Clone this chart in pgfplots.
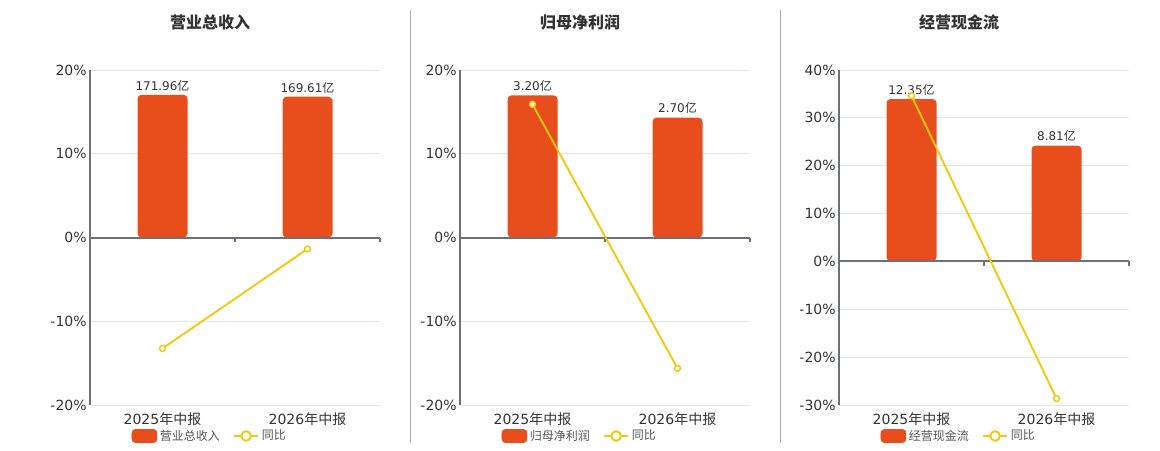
\documentclass[border=0pt]{standalone}
\usepackage{pgfplots}
\pgfplotsset{compat=1.18}
\usepackage{fontspec}
\setmainfont{DejaVu Sans}
\newfontfamily\cjk{Noto Sans CJK SC}
\definecolor{barc}{HTML}{E84D1C}
\definecolor{linec}{HTML}{F5C70A}
\definecolor{gridc}{HTML}{E0E6F1}
\definecolor{axc}{HTML}{6E7079}
\definecolor{txtc}{HTML}{333333}
\definecolor{legc}{HTML}{555555}
\definecolor{sepc}{HTML}{AAAAAA}
\pgfplotsset{
  panelbase/.style={
    scale only axis, width=217.5pt, height=251.25pt, anchor=south west,
    xmin=-0.5, xmax=1.5,
  },
  mainax/.style={
    panelbase,
    axis lines*=left,
    x axis line style={draw=none},
    y axis line style={draw=axc, line width=0.8pt},
    xtick={0,1},
    major x tick style={draw=none},
    major y tick style={draw=none},
    ymajorgrids, grid style={draw=gridc, line width=0.75pt},
    yticklabel={\pgfmathprintnumber[assume math mode=true]{\tick}\%},
    yticklabel style={font=\fontsize{10.5}{12}\selectfont, text=txtc, xshift=1pt},
    xticklabel style={font=\fontsize{10.5}{12}\selectfont, text=txtc, yshift=-2.5pt},
    title style={at={(0.414,1.119)}, anchor=center, font=\cjk\bfseries\fontsize{12}{14}\selectfont, text=txtc},
    legend columns=2,
    legend style={draw=none, at={(0.414,-0.0925)}, anchor=center, font=\cjk\fontsize{9}{11}\selectfont, text=legc,
      /tikz/every even column/.append style={column sep=8pt}, inner sep=0pt},
  },
  barax/.style={
    panelbase, hide axis, ybar, bar width=37.5pt, clip=false,
    point meta=explicit symbolic,
    nodes near coords={\pgfplotspointmeta{\cjk 亿}},
    every node near coord/.append style={font=\fontsize{9}{11}\selectfont, text=txtc, inner sep=2.5pt},
  },
  lineax/.style={panelbase, hide axis, clip=false},
  barsty/.style={fill=barc, draw=none, rounded corners=3pt},
  linesty/.style={linec, line width=1.4pt, mark=*, mark size=2.2pt, mark options={draw=linec, fill=white, line width=1.1pt}},
}
\newcommand{\legbar}{\addlegendimage{legend image code/.code={\fill[barc, rounded corners=2.5pt] (0pt,-4.875pt) rectangle (18.75pt,4.875pt);}}}
\newcommand{\legline}{\addlegendimage{legend image code/.code={\draw[linec, line width=1.4pt] (0pt,0pt) -- (18pt,0pt); \draw[linec, line width=1.4pt, fill=white] (9pt,0pt) circle (3.6pt);}}}
\newcommand{\zeroline}{\draw[axc, line width=1.5pt] (axis cs:-0.5,0) -- (axis cs:1.5,0);
  \draw[axc, line width=0.8pt] (axis cs:0.5,0) -- ++(0pt,-3.5pt);
  \draw[axc, line width=0.8pt] (axis cs:1.5,0) -- ++(0pt,-3.5pt);}
\begin{document}
\begin{tikzpicture}
\path[use as bounding box] (0,0) rectangle (870pt,337.5pt);
\draw[sepc, line width=0.75pt] (307.5pt,5.25pt) -- (307.5pt,330pt);
\draw[sepc, line width=0.75pt] (585pt,5.25pt) -- (585pt,330pt);

% ---------- Panel 1 ----------
\begin{axis}[mainax, at={(67.5pt,33.75pt)}, ymin=-20, ymax=20, ytick={-20,-10,0,10,20},
  xticklabels={2025{\cjk 年中报},2026{\cjk 年中报}}, title={营业总收入}]
\legbar\addlegendentry{营业总收入}
\legline\addlegendentry{同比}
\end{axis}
\begin{axis}[barax, at={(67.5pt,33.75pt)}, ymin=-201.8, ymax=201.8]
\addplot[barsty] coordinates {(0,171.96) [171.96] (1,169.61) [169.61]};
\end{axis}
\begin{axis}[lineax, at={(67.5pt,33.75pt)}, ymin=-20, ymax=20]
\zeroline
\addplot[linesty] coordinates {(0,-13.25) (1,-1.37)};
\end{axis}

% ---------- Panel 2 ----------
\begin{axis}[mainax, at={(345pt,33.75pt)}, ymin=-20, ymax=20, ytick={-20,-10,0,10,20},
  xticklabels={2025{\cjk 年中报},2026{\cjk 年中报}}, title={归母净利润}]
\legbar\addlegendentry{归母净利润}
\legline\addlegendentry{同比}
\end{axis}
\begin{axis}[barax, at={(345pt,33.75pt)}, ymin=-3.77, ymax=3.77]
\addplot[barsty] coordinates {(0,3.20) [3.20] (1,2.70) [2.70]};
\end{axis}
\begin{axis}[lineax, at={(345pt,33.75pt)}, ymin=-20, ymax=20]
\zeroline
\addplot[linesty] coordinates {(0,15.9) (1,-15.63)};
\end{axis}

% ---------- Panel 3 ----------
\begin{axis}[mainax, at={(629.25pt,33.75pt)}, ymin=-30, ymax=40, ytick={-30,-20,-10,0,10,20,30,40},
  xticklabels={2025{\cjk 年中报},2026{\cjk 年中报}}, title={经营现金流}]
\legbar\addlegendentry{经营现金流}
\legline\addlegendentry{同比}
\end{axis}
\begin{axis}[barax, at={(629.25pt,33.75pt)}, ymin=-10.94, ymax=14.56]
\addplot[barsty] coordinates {(0,12.35) [12.35] (1,8.81) [8.81]};
\end{axis}
\begin{axis}[lineax, at={(629.25pt,33.75pt)}, ymin=-30, ymax=40]
\zeroline
\addplot[linesty] coordinates {(0,34.6) (1,-28.66)};
\end{axis}
\end{tikzpicture}
\end{document}
